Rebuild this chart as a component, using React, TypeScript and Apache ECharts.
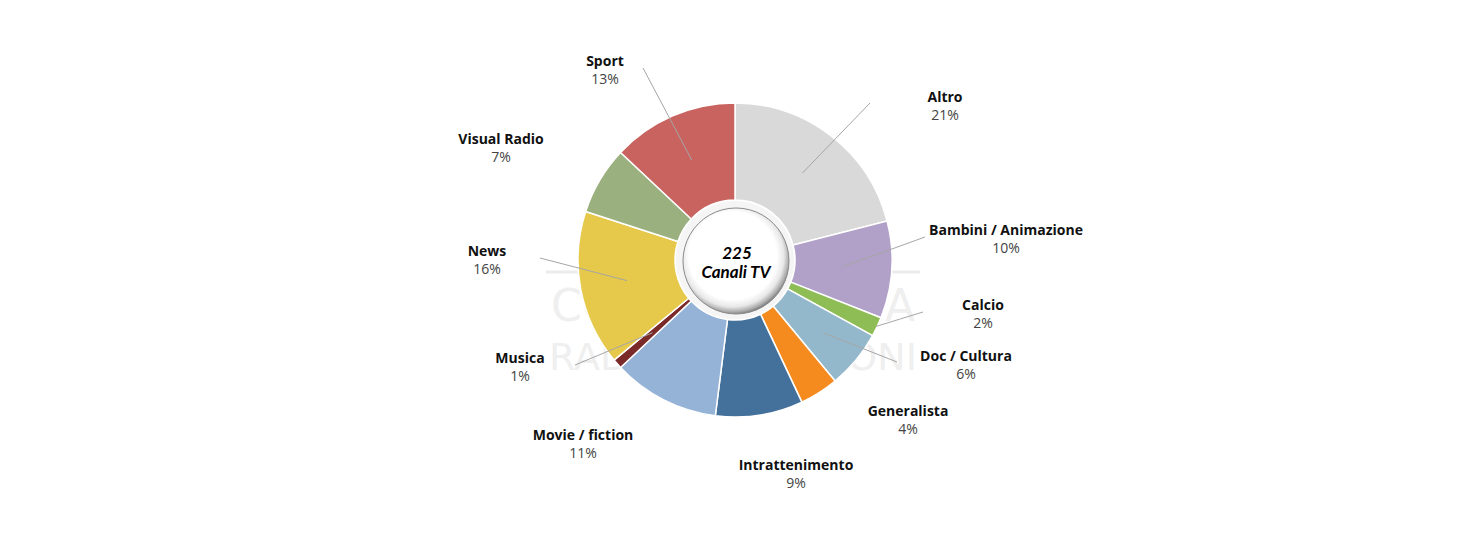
import React, { useEffect, useRef } from "react";
import * as echarts from "echarts";

// ---- data ----
const categories = [
  "Altro",
  "Bambini / Animazione",
  "Calcio",
  "Doc / Cultura",
  "Generalista",
  "Intrattenimento",
  "Movie / fiction",
  "Musica",
  "News",
  "Visual Radio",
  "Sport",
];
const shares = [21, 10, 2, 6, 4, 9, 11, 1, 16, 7, 13];
const centerLines = ["225", "Canali TV"];
const watermarkLines = ["CONFINDUSTRIA", "RADIO TELEVISIONI"];

// ---- styles / layout ----
const colors = [
  "#d9d9d9",
  "#b1a0c7",
  "#8fbd55",
  "#93b8cc",
  "#f58a1f",
  "#44719b",
  "#95b3d7",
  "#7b2a2a",
  "#e6c84b",
  "#9bb07f",
  "#c8635f",
];
const CX = 735;
const CY = 260;
const R_IN = 60;
const R_OUT = 157;
const labelAnchors = [
  [945, 105],
  [1006, 238],
  [983, 313],
  [966, 364],
  [908, 419],
  [796, 473],
  [583, 443],
  [520, 366],
  [487, 259],
  [501, 147],
  [605, 69],
];
const lineEnds: (number[] | null)[] = [
  [870, 103],
  [925, 237],
  [923, 312],
  [897, 362],
  null,
  null,
  null,
  [575, 365],
  [540, 258],
  null,
  [643, 68],
];
const lineStartRadius = [110, 108, 156, 114, 0, 0, 0, 110, 110, 0, 109];

function midAngles(): number[] {
  const total = shares.reduce((a, b) => a + b, 0);
  let acc = 0;
  return shares.map((v) => {
    const mid = ((acc + v / 2) / total) * Math.PI * 2;
    acc += v;
    return mid;
  });
}

const centerTextStyle = (text: string) => ({
  text,
  fontFamily: "Lato",
  fontSize: 17,
  fontWeight: "bold",
  fontStyle: "italic",
  fill: "#000000",
  align: "center",
  verticalAlign: "middle",
  textAlign: "center",
  textVerticalAlign: "middle",
});

export default function App() {
  const ref = useRef<HTMLDivElement>(null);
  useEffect(() => {
    if (!ref.current) return;
    const chart = echarts.init(ref.current, null, { renderer: "svg" });
    const mids = midAngles();
    const baseData = categories.map((name, i) => ({ name, value: shares[i] }));
    const option: any = {
      animation: false,
      backgroundColor: "#ffffff",
      graphic: [
        {
          type: "line",
          z: -10,
          shape: { x1: 546, y1: 272, x2: 920, y2: 272 },
          style: { stroke: "#ececec", lineWidth: 3 },
        },
        {
          type: "text",
          z: -10,
          x: 733,
          y: 305,
          style: {
            text: watermarkLines[0],
            fontFamily: "DejaVu Sans",
            fontSize: 44,
            fill: "#efefef",
            align: "center",
            verticalAlign: "middle",
            textAlign: "center",
            textVerticalAlign: "middle",
          },
        },
        {
          type: "text",
          z: -10,
          x: 733,
          y: 357,
          style: {
            text: watermarkLines[1],
            fontFamily: "DejaVu Sans",
            fontSize: 38,
            fill: "#efefef",
            align: "center",
            verticalAlign: "middle",
            textAlign: "center",
            textVerticalAlign: "middle",
          },
        },
        {
          type: "circle",
          z: 100,
          shape: { cx: CX, cy: CY, r: R_IN - 1 },
          style: { fill: "#f5f5f5" },
        },
        {
          type: "circle",
          z: 101,
          shape: { cx: CX + 1, cy: CY + 1, r: 53 },
          style: {
            fill: {
              type: "radial",
              x: 0.47,
              y: 0.45,
              r: 0.56,
              colorStops: [
                { offset: 0, color: "#ffffff" },
                { offset: 0.74, color: "#ffffff" },
                { offset: 0.86, color: "#e8e8e8" },
                { offset: 0.95, color: "#a8a8a8" },
                { offset: 1, color: "#707070" },
              ],
            },
            stroke: "#8a8a8a",
            lineWidth: 1,
          },
        },
        { type: "text", z: 102, x: CX + 2, y: 252, style: centerTextStyle(centerLines[0]) },
        { type: "text", z: 102, x: CX + 1, y: 271, style: centerTextStyle(centerLines[1]) },
      ],
      series: [
        {
          type: "pie",
          z: 2,
          center: [CX, CY],
          radius: [R_IN, R_OUT],
          startAngle: 90,
          clockwise: true,
          emphasis: { disabled: true },
          itemStyle: { borderColor: "#ffffff", borderWidth: 1.5 },
          label: { show: false },
          labelLine: { show: false },
          data: baseData.map((d, i) => ({ ...d, itemStyle: { color: colors[i] } })),
        },
        {
          type: "pie",
          z: 5,
          silent: true,
          center: [CX, CY],
          radius: [R_IN, R_OUT],
          startAngle: 90,
          clockwise: true,
          avoidLabelOverlap: false,
          emphasis: { disabled: true },
          itemStyle: { color: "rgba(0,0,0,0)", borderWidth: 0 },
          label: {
            show: true,
            position: "outside",
            formatter: "{n|{b}}\n{p|{c}%}",
            rich: {
              n: {
                fontFamily: "Open Sans",
                fontWeight: "bold",
                fontSize: 14,
                color: "#111111",
                lineHeight: 18,
                align: "center",
              },
              p: {
                fontFamily: "Open Sans",
                fontSize: 14,
                color: "#444444",
                lineHeight: 18,
                align: "center",
              },
            },
          },
          labelLine: {
            show: true,
            showAbove: true,
            length: 10,
            length2: 10,
            lineStyle: { color: "#a6a6a6", width: 1 },
          },
          labelLayout: (params: any) => {
            const i = params.dataIndex;
            const [lx, ly] = labelAnchors[i];
            const res: any = {
              x: lx,
              y: ly,
              align: "center",
              verticalAlign: "middle",
            };
            const end = lineEnds[i];
            if (end) {
              const a = mids[i];
              const r = lineStartRadius[i];
              const sx = CX + r * Math.sin(a);
              const sy = CY - r * Math.cos(a);
              res.labelLinePoints = [
                [sx, sy],
                [(sx + end[0]) / 2, (sy + end[1]) / 2],
                [end[0], end[1]],
              ];
            }
            return res;
          },
          data: baseData.map((d, i) => ({
            ...d,
            labelLine: { show: lineEnds[i] != null },
          })),
        },
      ],
    };
    chart.setOption(option);
    return () => chart.dispose();
  }, []);
  return (
    <div
      ref={ref}
      style={{ position: "absolute", left: 0, top: 0, width: 1466, height: 550 }}
    />
  );
}
